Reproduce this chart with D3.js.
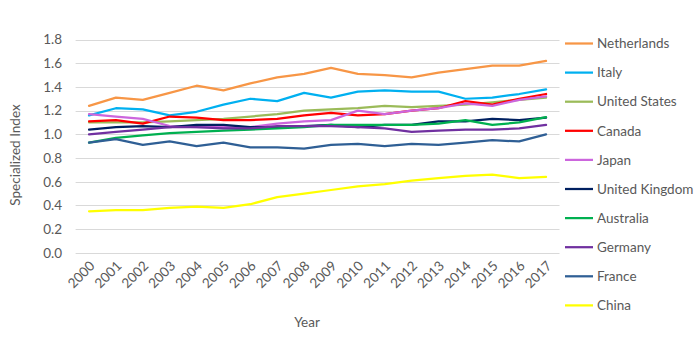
<!DOCTYPE html>
<html><head><meta charset="utf-8">
<script src="https://cdn.jsdelivr.net/npm/d3@7"></script>
<style>body{margin:0;background:#fff;}svg{display:block;font-family:Lato,"Open Sans",sans-serif;}</style>
</head><body><svg id="c" width="700" height="350"></svg>
<script>
const years = ["2000","2001","2002","2003","2004","2005","2006","2007","2008","2009","2010","2011","2012","2013","2014","2015","2016","2017"];
const yTicks = [0,0.2,0.4,0.6,0.8,1.0,1.2,1.4,1.6,1.8];
const seriesNames = ["Netherlands","Italy","United States","Canada","Japan","United Kingdom","Australia","Germany","France","China"];
const netherlands = [1.24,1.31,1.29,1.35,1.41,1.37,1.43,1.48,1.51,1.56,1.51,1.50,1.48,1.52,1.55,1.58,1.58,1.62];
const italy       = [1.16,1.22,1.21,1.16,1.19,1.25,1.30,1.28,1.35,1.31,1.36,1.37,1.36,1.36,1.30,1.31,1.34,1.38];
const unitedStates= [1.10,1.10,1.10,1.11,1.12,1.13,1.15,1.17,1.20,1.21,1.22,1.24,1.23,1.24,1.25,1.27,1.29,1.31];
const canada      = [1.11,1.12,1.09,1.15,1.14,1.12,1.12,1.13,1.16,1.18,1.16,1.17,1.20,1.22,1.28,1.25,1.30,1.34];
const japan       = [1.17,1.15,1.13,1.07,1.06,1.06,1.06,1.09,1.11,1.12,1.20,1.17,1.20,1.22,1.26,1.24,1.29,1.32];
const unitedKingdom=[1.04,1.06,1.07,1.06,1.08,1.08,1.06,1.06,1.07,1.08,1.06,1.08,1.08,1.11,1.11,1.13,1.12,1.14];
const australia   = [0.93,0.97,0.99,1.01,1.02,1.03,1.04,1.05,1.06,1.08,1.08,1.08,1.08,1.09,1.12,1.08,1.10,1.145];
const germany     = [1.00,1.02,1.04,1.06,1.06,1.05,1.05,1.07,1.07,1.07,1.06,1.05,1.02,1.03,1.04,1.04,1.05,1.08];
const france      = [0.93,0.96,0.91,0.94,0.90,0.93,0.89,0.89,0.88,0.91,0.92,0.90,0.92,0.91,0.93,0.95,0.94,1.00];
const china       = [0.35,0.36,0.36,0.38,0.39,0.38,0.41,0.47,0.50,0.53,0.56,0.58,0.61,0.63,0.65,0.66,0.63,0.64];
const seriesValues = [netherlands,italy,unitedStates,canada,japan,unitedKingdom,australia,germany,france,china];
const colors = ["#F79646","#00B0F0","#9BBB59","#FF0000","#CC66DD","#002060","#00B050","#7030A0","#2F5F95","#FFFF00"];

const svg = d3.select("#c");
const pLeft = 75.6, pRight = 559.5, pTop = 39.5, pBottom = 252.8;
const x = d3.scalePoint().domain(years).range([pLeft, pRight]).padding(0.5);
const y = d3.scaleLinear().domain([0,1.8]).range([pBottom, pTop]);
const txt = "#595959";
const fs = "13.5px";

// grid
svg.append("g").selectAll("line").data(yTicks).join("line")
  .attr("x1", pLeft).attr("x2", pRight)
  .attr("y1", d => Math.round(y(d))+0.5).attr("y2", d => Math.round(y(d))+0.5)
  .attr("stroke", "#D9D9D9").attr("stroke-width", 1);

// y axis labels
const yAxis = d3.axisLeft(y).tickValues(yTicks).tickFormat(d3.format(".1f")).tickSize(0).tickPadding(0);
const gy = svg.append("g").attr("transform", `translate(62,0)`).call(yAxis);
gy.select(".domain").remove();
gy.selectAll("text").attr("fill", txt).style("font-size", fs).attr("font-family", "Lato, 'Open Sans', sans-serif");

// x axis labels
const xAxis = d3.axisBottom(x).tickSize(0).tickPadding(0);
const gx = svg.append("g").attr("transform", `translate(0,${pBottom})`).call(xAxis);
gx.select(".domain").remove();
gx.selectAll("text").attr("fill", txt).style("font-size", fs).attr("font-family", "Lato, 'Open Sans', sans-serif")
  .attr("text-anchor", "end").attr("dy", "0")
  .attr("transform", "translate(6,14) rotate(-45)");

// lines
const line = d3.line().x((d,i) => x(years[i])).y(d => y(d));
svg.append("g").selectAll("path").data(seriesValues).join("path")
  .attr("d", d => line(d)).attr("fill", "none")
  .attr("stroke", (d,i) => colors[i]).attr("stroke-width", 2.25)
  .attr("stroke-linejoin", "round").attr("stroke-linecap", "round");

// axis titles
svg.append("text").attr("x", 307).attr("y", 327).attr("text-anchor", "middle")
  .attr("fill", txt).style("font-size", fs).text("Year");
svg.append("text").attr("transform", "translate(20,155) rotate(-90)").attr("text-anchor", "middle")
  .attr("fill", txt).style("font-size", fs).text("Specialized Index");

// legend
const lg = svg.append("g").selectAll("g").data(seriesNames).join("g")
  .attr("transform", (d,i) => `translate(565,${43.5 + i*29.1})`);
lg.append("line").attr("x1", 0).attr("x2", 28).attr("y1", 0).attr("y2", 0)
  .attr("stroke", (d,i) => colors[i]).attr("stroke-width", 2.25);
lg.append("text").attr("x", 32).attr("y", 0).attr("dy", "0.35em")
  .attr("fill", txt).style("font-size", fs).text(d => d);
</script></body></html>
